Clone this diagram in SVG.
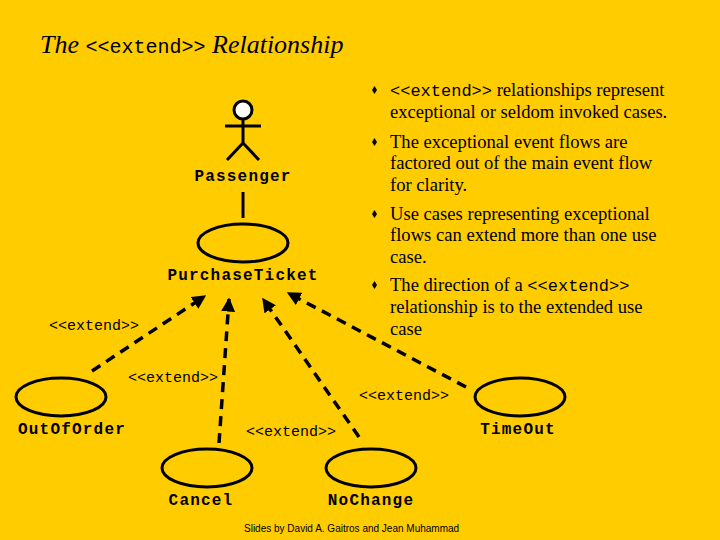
<svg xmlns="http://www.w3.org/2000/svg" width="720" height="540" viewBox="0 0 720 540">
<defs>
<style>
.uc{fill:none;stroke:#000;stroke-width:3}
.lb{font-family:"Liberation Mono",monospace;font-weight:bold;font-size:16px;text-anchor:middle;letter-spacing:1.2px}
.ex{font-family:"Liberation Mono",monospace;font-size:15px}
.tx{font-family:"Liberation Serif",serif;font-size:18.6px}
.mn{font-family:"Liberation Mono",monospace;font-size:17px}
.cn{fill:none;stroke:#000;stroke-width:3.5;stroke-dasharray:10,7}
</style>
<marker id="ah" viewBox="0 0 10 10" refX="9" refY="5" markerWidth="4" markerHeight="4" orient="auto" markerUnits="strokeWidth"><path d="M0,0L10,5L0,10z"/></marker>
</defs>
<rect width="720" height="540" fill="#FFCC00"/>
<text x="40" y="53" font-family="Liberation Serif,serif" font-style="italic" font-size="26">The <tspan font-family="Liberation Mono,monospace" font-style="normal" font-size="20">&lt;&lt;extend&gt;&gt;</tspan>  Relationship</text>
<g id="passenger" stroke="#000" stroke-width="3" fill="none">
<circle cx="243" cy="110" r="9" fill="#fff"/>
<line x1="243" y1="119" x2="243" y2="143"/>
<line x1="225" y1="126" x2="261" y2="126"/>
<line x1="243" y1="143" x2="227" y2="160"/>
<line x1="243" y1="143" x2="259" y2="160"/>
</g>
<text class="lb" x="243" y="181">Passenger</text>
<g id="purchase"><ellipse class="uc" cx="243" cy="243" rx="45" ry="19"/><text class="lb" x="243" y="280">PurchaseTicket</text></g>
<g id="outoforder"><ellipse class="uc" cx="61" cy="397" rx="45" ry="19"/><text class="lb" x="72" y="434">OutOfOrder</text></g>
<g id="cancel"><ellipse class="uc" cx="207" cy="468" rx="45" ry="19"/><text class="lb" x="201" y="505">Cancel</text></g>
<g id="nochange"><ellipse class="uc" cx="371" cy="468" rx="45" ry="19"/><text class="lb" x="371" y="505">NoChange</text></g>
<g id="timeout"><ellipse class="uc" cx="520" cy="397" rx="45" ry="19"/><text class="lb" x="518" y="434">TimeOut</text></g>
<g id="connectors">
<line x1="243" y1="192" x2="243" y2="218" stroke="#000" stroke-width="3"/>
<line class="cn" x1="92" y1="371" x2="205" y2="296" marker-end="url(#ah)"/>
<line class="cn" x1="219" y1="443" x2="229" y2="299" marker-end="url(#ah)"/>
<line class="cn" x1="359" y1="437" x2="263" y2="299" marker-end="url(#ah)"/>
<line class="cn" x1="466" y1="387" x2="288" y2="293" marker-end="url(#ah)"/>
</g>
<text class="ex" x="49" y="330">&lt;&lt;extend&gt;&gt;</text>
<text class="ex" x="128" y="382">&lt;&lt;extend&gt;&gt;</text>
<text class="ex" x="359" y="400">&lt;&lt;extend&gt;&gt;</text>
<text class="ex" x="246" y="436">&lt;&lt;extend&gt;&gt;</text>
<g fill="#000">
<path d="M372,90l2.5,-4 2.5,4 -2.5,4z"/><path d="M372,142l2.5,-4 2.5,4 -2.5,4z"/><path d="M372,214l2.5,-4 2.5,4 -2.5,4z"/><path d="M372,285l2.5,-4 2.5,4 -2.5,4z"/>
</g>
<text class="tx" x="390" y="96"><tspan class="mn">&lt;&lt;extend&gt;&gt;</tspan> relationships represent</text>
<text class="tx" x="390" y="118">exceptional or seldom invoked cases.</text>
<text class="tx" x="390" y="148">The exceptional event flows are</text>
<text class="tx" x="390" y="169">factored out of the main event flow</text>
<text class="tx" x="390" y="191">for clarity.</text>
<text class="tx" x="390" y="220">Use cases representing exceptional</text>
<text class="tx" x="390" y="241">flows can extend more than one use</text>
<text class="tx" x="390" y="263">case.</text>
<text class="tx" x="390" y="291">The direction of a <tspan class="mn">&lt;&lt;extend&gt;&gt;</tspan></text>
<text class="tx" x="390" y="313">relationship is to the extended use</text>
<text class="tx" x="390" y="335">case</text>
<text x="244" y="532" font-family="Liberation Sans,sans-serif" font-size="10">Slides by David A. Gaitros and Jean Muhammad</text>
</svg>
